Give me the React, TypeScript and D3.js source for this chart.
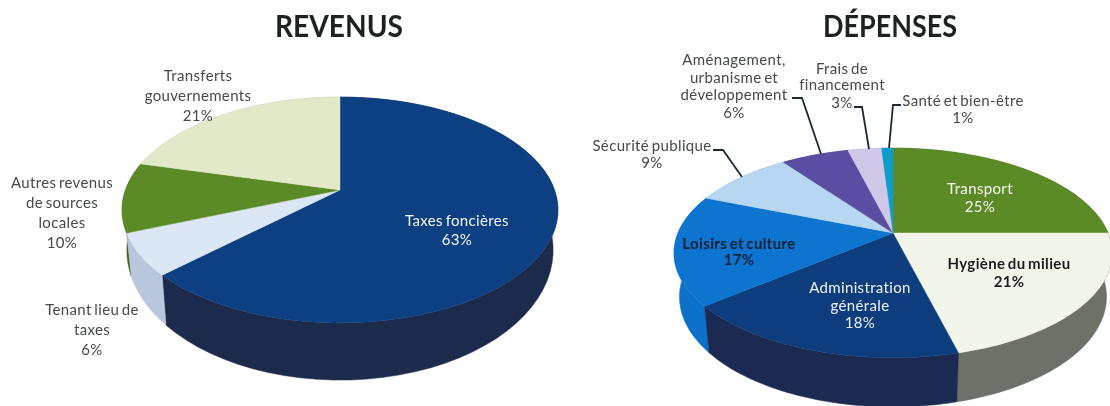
import React from "react";
import * as d3 from "d3";

const revenusLabels = ["Taxes foncières", "Tenant lieu de taxes", "Autres revenus de sources locales", "Transferts gouvernements"];
const revenusValues = [63, 6, 10, 21];
const depensesLabels = ["Transport", "Hygiène du milieu", "Administration générale", "Loisirs et culture", "Sécurité publique", "Aménagement, urbanisme et développement", "Frais de financement", "Santé et bien-être"];
const depensesValues = [25, 21, 18, 17, 9, 6, 3, 1];

const revenusTop = ["#0f4182", "#dbe7f5", "#5c8a27", "#e1e9c8"];
const revenusWall = ["#1d2a4b", "#b9c7de", "#40651c", "#c0c9a0"];
const depensesTop = ["#5c8a28", "#f2f5ea", "#103e7b", "#0b74cf", "#b7d6f1", "#5a4ea2", "#cfc8e8", "#0e9ccb"];
const depensesWall = ["#40621c", "#6c7267", "#1a2b52", "#0a70cb", "#8aa8c4", "#3f3775", "#a09ab8", "#0a7095"];

const revenusGeom = { cx: 340, cy: 190, R: 214.5, h: 109.4, k: 0.177, cy2: 227, h2: 126, s: 0.978 };
const depensesGeom = { cx: 893, cy: 233, R: 215, h: 101, k: 0.19, cy2: 276, h2: 106, s: 0.975 };

type Geom = typeof revenusGeom;
type Lab = { lines: string[]; x: number; y: number[]; fill?: string; weight?: number };

const revenusText: Lab[] = [
  { lines: ["Transferts", "gouvernements", "21%"], x: 198, y: [75, 95, 115] },
  { lines: ["Autres revenus", "de sources", "locales", "10%"], x: 62, y: [182, 202, 222, 242] },
  { lines: ["Tenant lieu de", "taxes", "6%"], x: 92, y: [309, 329, 349] },
  { lines: ["Taxes foncières", "63%"], x: 457, y: [220, 239], fill: "#f4f6fa" },
];
const depensesText: Lab[] = [
  { lines: ["Santé et bien-être", "1%"], x: 963, y: [100, 117] },
  { lines: ["Frais de", "financement", "3%"], x: 842, y: [68, 84, 102] },
  { lines: ["Aménagement,", "urbanisme et", "développement", "6%"], x: 734, y: [59, 77, 94, 112] },
  { lines: ["Sécurité publique", "9%"], x: 652, y: [145, 162] },
  { lines: ["Transport", "25%"], x: 980, y: [188, 206], fill: "#f6f8f0" },
  { lines: ["Hygiène du milieu", "21%"], x: 1009, y: [263, 281], fill: "#1c1f22", weight: 700 },
  { lines: ["Administration", "générale", "18%"], x: 860, y: [287, 305, 322], fill: "#f0f4fa" },
  { lines: ["Loisirs et culture", "17%"], x: 739, y: [243, 259], fill: "#0e2036", weight: 700 },
];
const leaders: [number, number][][] = [
  [[713, 150], [723, 150], [742, 177]],
  [[792, 98], [802, 98], [821, 154]],
  [[854, 107], [862, 107], [869, 149]],
  [[901, 105], [893, 105], [889, 148]],
];

const topPoint = (g: Geom, a: number): [number, number] => {
  const X = Math.sin(a), Y = -Math.cos(a), w = 1 - g.k * Y;
  return [g.cx + (g.R * X) / w, g.cy + (g.h * Y) / w];
};
const bottomPoint = (g: Geom, a: number): [number, number] => {
  const X = Math.sin(a), Y = -Math.cos(a), w = 1 - g.k * Y;
  return [g.cx + (g.R * g.s * X) / w, g.cy2 + (g.h2 * Y) / w];
};

function Pie3D({ values, labels, top, wall, geom }: { values: number[]; labels: string[]; top: string[]; wall: string[]; geom: Geom }) {
  const arcs = d3.pie<number>().sort(null).value((d) => d)(values);
  const line = d3.line();
  const samples = (a0: number, a1: number) => d3.range(0, 61).map((i) => a0 + ((a1 - a0) * i) / 60);
  const order = arcs.map((_, i) => i).sort((p, q) => {
    const mid = (i: number) => -Math.cos((arcs[i].startAngle + arcs[i].endAngle) / 2);
    return mid(p) - mid(q);
  });
  return (
    <g>
      {order.map((i) => {
        const as = samples(arcs[i].startAngle, arcs[i].endAngle);
        const pts = [...as.map((a) => topPoint(geom, a)), ...as.slice().reverse().map((a) => bottomPoint(geom, a))];
        return <path key={"w" + i} d={line(pts) + "Z"} fill={wall[i]} stroke={wall[i]} strokeWidth={0.5} />;
      })}
      {arcs.map((d, i) => {
        const pts: [number, number][] = [[geom.cx, geom.cy], ...samples(d.startAngle, d.endAngle).map((a) => topPoint(geom, a))];
        return <path key={"t" + i} d={line(pts) + "Z"} fill={top[i]} stroke={top[i]} strokeWidth={0.4} data-label={labels[i]} />;
      })}
    </g>
  );
}

function Labels({ items }: { items: Lab[] }) {
  return (
    <g fontFamily="Lato, sans-serif" fontSize={15} textAnchor="middle" dominantBaseline="central" wordSpacing={-1.5} filter="url(#softText)">
      {items.map((l, i) =>
        l.lines.map((t, j) => (
          <text key={i + "-" + j} x={l.x} y={l.y[j]} fill={l.fill ?? "#46494c"} fontWeight={l.weight ?? 400} letterSpacing={0.35}>
            {t}
          </text>
        ))
      )}
    </g>
  );
}

export default function App() {
  const line = d3.line();
  return (
    <svg width={1110} height={406} viewBox="0 0 1110 406" style={{ position: "absolute", left: 0, top: 0, background: "#fff" }}>
      <defs>
        <filter id="soft" x="-5%" y="-5%" width="110%" height="110%">
          <feGaussianBlur stdDeviation={0.5} />
        </filter>
        <filter id="softText" x="-5%" y="-5%" width="110%" height="110%">
          <feGaussianBlur stdDeviation={0.3} />
        </filter>
      </defs>
      <g filter="url(#soft)">
        <Pie3D values={revenusValues} labels={revenusLabels} top={revenusTop} wall={revenusWall} geom={revenusGeom} />
        <Pie3D values={depensesValues} labels={depensesLabels} top={depensesTop} wall={depensesWall} geom={depensesGeom} />
        {leaders.map((p, i) => (
          <path key={i} d={line(p) ?? ""} fill="none" stroke="#1f2a38" strokeWidth={1.8} />
        ))}
      </g>
      <Labels items={revenusText} />
      <Labels items={depensesText} />
      <g fontFamily="Lato, sans-serif" fontWeight={700} fontSize={30} textAnchor="middle" fill="#1f2123" filter="url(#softText)">
        <text x={339} y={37} textLength={128} lengthAdjust="spacingAndGlyphs">REVENUS</text>
        <text x={890} y={37} textLength={134} lengthAdjust="spacingAndGlyphs">DÉPENSES</text>
      </g>
    </svg>
  );
}
